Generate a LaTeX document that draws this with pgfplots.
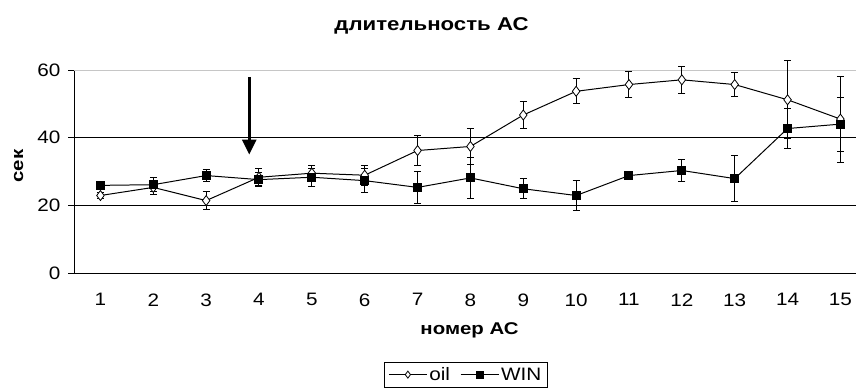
\documentclass[border=0pt]{standalone}
\usepackage{pgfplots}
\pgfplotsset{compat=1.18}
\usepackage{pgfplotstable}
\usepackage{fontspec}
\setmainfont{Liberation Sans}
\newfontfamily\widesans{Liberation Sans}[FakeStretch=1.15]
\newfontfamily\widelabel{Liberation Sans}[FakeStretch=1.2]
\usetikzlibrary{arrows.meta}

% mean duration and spread per AC number
\pgfplotstableread{
x  y     err
1  22.9  1.0
2  25.3  2.0
3  21.4  2.6
4  28.3  2.5
5  29.5  2.3
6  28.9  3.0
7  36.2  4.4
8  37.4  5.2
9  46.7  4.1
10 53.7  3.7
11 55.7  3.8
12 57.1  4.0
13 55.7  3.5
14 51.2  11.5
15 45.5  12.7
}\oildata

\pgfplotstableread{
x  y     err
1  25.9  0.6
2  26.1  2.0
3  28.8  1.7
4  27.6  2.0
5  28.3  2.7
6  27.3  3.6
7  25.3  4.8
8  28.1  6.0
9  24.9  2.9
10 22.9  4.4
11 28.8  1.3
12 30.3  3.3
13 27.9  6.7
14 42.7  5.9
15 44.0  8.0
}\windata

\newcommand{\tickfont}{\widesans\fontsize{18bp}{21bp}\selectfont}

\begin{document}
\begin{tikzpicture}
\begin{axis}[
  at={(74bp,117bp)}, anchor=south west,
  scale only axis, width=782bp, height=203bp,
  xmin=0.5, xmax=15.295, ymin=0, ymax=60,
  clip=false,
  axis x line=bottom, axis y line=left,
  axis line style={-, line width=1pt, black},
  xtick={1,...,15},
  minor xtick={0.5,1.5,...,14.5},
  ytick={0,20,40,60},
  tick align=outside,
  x tick style={draw=none},
  minor x tick style={black, line width=1pt},
  minor tick length=6bp,
  y tick style={black, line width=1pt},
  major tick length=6bp,
  tick label style={font=\tickfont},
  /pgf/number format/assume math mode=true,
  xticklabel style={yshift=-11bp},
  yticklabel style={xshift=-4bp},
  legend style={at={(axis description cs:0.3964,-0.4384)}, anchor=north west,
    draw=black, line width=0.8pt, font=\tickfont, legend columns=2,
    inner xsep=4bp, inner ysep=3bp,
    /tikz/every even column/.append style={column sep=8bp}},
  legend image code/.code={%
    \draw[mark repeat=2, mark phase=2, mark size=3.5bp]
      plot coordinates {(0bp,0bp)(19bp,0bp)(38bp,0bp)};},
  error bars/y dir=both, error bars/y explicit,
  error bars/error bar style={line width=1pt, black},
  error bars/error mark options={rotate=90, mark size=3.5bp, line width=1pt, black},
]
% horizontal reference lines
\draw[gray!45, line width=0.8pt] (axis cs:0.5,60) -- (axis cs:15.295,60);
\draw[black, line width=1pt] (axis cs:0.5,40) -- (axis cs:15.295,40);
\draw[black, line width=1pt] (axis cs:0.5,20) -- (axis cs:15.295,20);

\addplot[black, line width=1pt, mark=diamond*, mark size=5bp,
  mark options={fill=white, line width=0.8pt}]
  table[x=x, y=y, y error=err] {\oildata};
\addlegendentry{oil}

\addplot[black, line width=1pt, mark=square*, mark size=4bp,
  mark options={fill=black}]
  table[x=x, y=y, y error=err] {\windata};
\addlegendentry{WIN}

% treatment onset
\draw[line width=2.5pt, -{Triangle[length=15bp, width=14bp]}]
  (axis cs:3.816,58) -- (axis cs:3.816,35);
\end{axis}

\node[font=\widelabel\bfseries\fontsize{18.5bp}{22bp}\selectfont, anchor=base] at (431.5bp,359bp) {длительность АС};
\node[font=\widelabel\bfseries\fontsize{17bp}{20bp}\selectfont, anchor=base] at (469.5bp,55.7bp) {номер АС};
\node[font=\widelabel\bfseries\fontsize{17bp}{20bp}\selectfont, rotate=90, anchor=base] at (23bp,224bp) {сек};

\pgfresetboundingbox
\useasboundingbox (0,0) rectangle (856bp,390bp);
\end{tikzpicture}
\end{document}
